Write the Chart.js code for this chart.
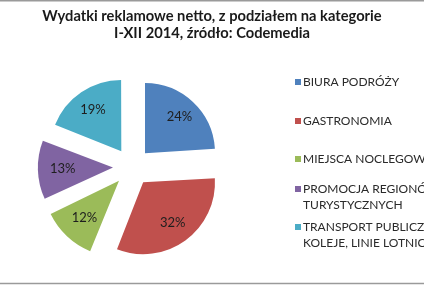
<!DOCTYPE html>
<html>
<head>
<meta charset="utf-8">
<script src="https://cdn.jsdelivr.net/npm/chart.js@4"></script>
<style>
  html, body { margin: 0; padding: 0; background: #fff; }
  #wrap { width: 424px; height: 285px; position: relative; }
</style>
</head>
<body>
<div id="wrap"><canvas id="pie" width="424" height="285"></canvas></div>
<script>
// data
const titleLines = ['Wydatki reklamowe netto, z podziałem na kategorie', 'I-XII 2014, źródło: Codemedia'];
const categories = ['BIURA PODRÓŻY', 'GASTRONOMIA', 'MIEJSCA NOCLEGOWE', 'PROMOCJA REGIONÓW TURYSTYCZNYCH', 'TRANSPORT PUBLICZNY, KOLEJE, LINIE LOTNICZE'];
const legendLines = [
    ['BIURA PODRÓŻY'],
    ['GASTRONOMIA'],
    ['MIEJSCA NOCLEGOWE'],
    ['PROMOCJA REGIONÓW', 'TURYSTYCZNYCH'],
    ['TRANSPORT PUBLICZNY,', 'KOLEJE, LINIE LOTNICZE']
];
const shares = [24, 32, 12, 13, 19];

// styles
const sliceColors = ['#4F81BD', '#C0504D', '#9BBB59', '#8064A2', '#4BACC6'];
const legendRowY = [82, 121, 159, 189, 227];

/* percent labels, title, legend and the frame lines */
const decorations = {
    id: 'decorations',
    afterDraw(chart) {
        const ctx = chart.ctx;
        const meta = chart.getDatasetMeta(0);
        ctx.save();

        // frame lines top and bottom
        ctx.strokeStyle = '#9a9a9a';
        ctx.lineWidth = 1.5;
        ctx.beginPath();
        ctx.moveTo(0, 0.75); ctx.lineTo(424, 0.75);
        ctx.moveTo(0, 283.5); ctx.lineTo(424, 283.5);
        ctx.stroke();

        // labels in slices (arc offset is drawn at a quarter of its value)
        ctx.fillStyle = '#1e1e1e';
        ctx.font = '13px Lato, "Open Sans", sans-serif';
        ctx.textAlign = 'center';
        ctx.textBaseline = 'middle';
        meta.data.forEach(function (arc, i) {
            const p = arc.getProps(['x', 'y', 'startAngle', 'endAngle', 'outerRadius'], true);
            const a = (p.startAngle + p.endAngle) / 2;
            const d = arc.options.offset / 4 + p.outerRadius * 0.72;
            ctx.fillText(shares[i] + '%', p.x + Math.cos(a) * d, p.y + Math.sin(a) * d);
        });

        // title
        ctx.fillStyle = '#1a1a1a';
        ctx.font = 'bold 14.7px Lato, "Open Sans", sans-serif';
        ctx.fillText(titleLines[0], 212, 16);
        ctx.fillText(titleLines[1], 212, 33);

        // legend
        ctx.textAlign = 'left';
        ctx.font = '12px Lato, "Open Sans", sans-serif';
        legendLines.forEach(function (lines, i) {
            const y = legendRowY[i];
            ctx.fillStyle = sliceColors[i];
            ctx.fillRect(295, y - 3, 6, 6);
            ctx.fillStyle = '#2a2a2a';
            lines.forEach(function (t, k) {
                ctx.fillText(t, 303, y + k * 16.5);
            });
        });
        ctx.restore();
    }
};

const pieChart = new Chart(document.getElementById('pie'), {
    type: 'pie',
    data: {
        labels: categories,
        datasets: [{
            data: shares,
            backgroundColor: sliceColors,
            borderWidth: 0,
            offset: 76
        }]
    },
    options: {
        responsive: false,
        animation: false,
        radius: 70,
        layout: { padding: { left: 0, right: 160, top: 51, bottom: 2 } },
        plugins: {
            legend: { display: false },
            title: { display: false },
            tooltip: { enabled: false }
        }
    },
    plugins: [decorations]
});
</script>
</body>
</html>
